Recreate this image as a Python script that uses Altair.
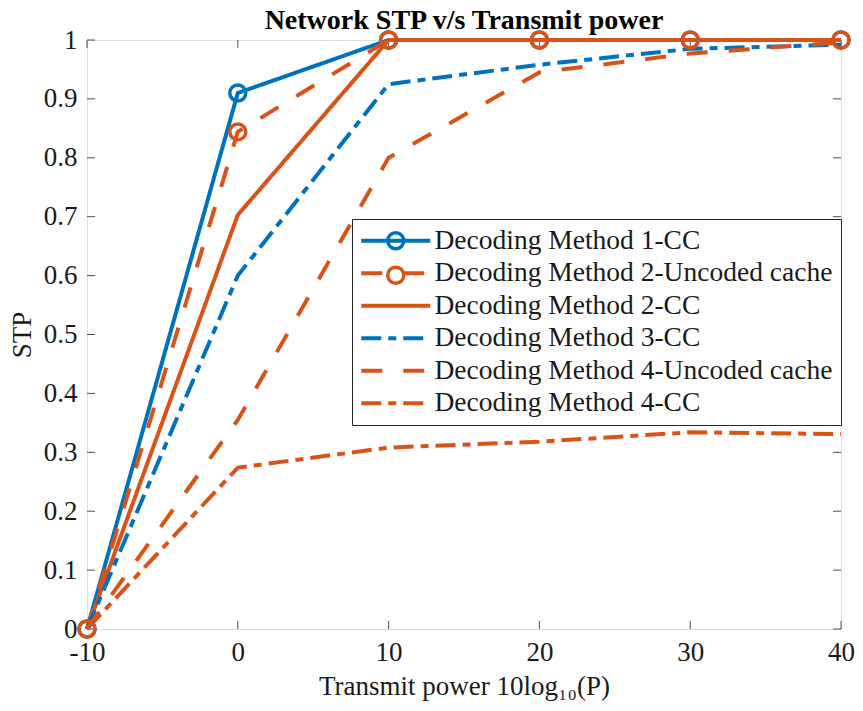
import altair as alt
import pandas as pd

# ---- data ----
x_vals = [-10, 0, 10, 20, 30, 40]
series_names = [
    "Decoding Method 1-CC",
    "Decoding Method 2-Uncoded cache",
    "Decoding Method 2-CC",
    "Decoding Method 3-CC",
    "Decoding Method 4-Uncoded cache",
    "Decoding Method 4-CC",
]
m1_cc = [0, 0.91, 1.0, 1.0, 1.0, 1.0]
m2_unc = [0, 0.844, 1.0, 1.0, 1.0, 1.0]
m2_cc = [0, 0.703, 1.0, 1.0, 1.0, 1.0]
m3_cc = [0, 0.60, 0.925, 0.958, 0.985, 0.992]
m4_unc = [0, 0.355, 0.80, 0.945, 0.977, 0.996]
m4_cc = [0, 0.274, 0.308, 0.318, 0.334, 0.331]
all_values = [m1_cc, m2_unc, m2_cc, m3_cc, m4_unc, m4_cc]
marker_series = series_names[:2]

x_ticks = [-10, 0, 10, 20, 30, 40]
y_ticks = [0, 0.1, 0.2, 0.3, 0.4, 0.5, 0.6, 0.7, 0.8, 0.9, 1]

# ---- styles ----
BLUE = "#0072BD"
ORANGE = "#D95319"
colors = [BLUE, ORANGE, ORANGE, BLUE, ORANGE, ORANGE]
dashes = [[1, 0], [21, 21], [1, 0], [20, 7, 8, 7], [21, 21], [20, 7, 8, 7]]
FONT = "Liberation Serif"
TXT = "#1a1a1a"
AX = "#4d4d4d"
W, H = 754, 589

rows = []
for name, vals in zip(series_names, all_values):
    for xv, yv in zip(x_vals, vals):
        rows.append({"series": name, "x": xv, "y": yv})
df = pd.DataFrame(rows)
df_mark = df[df["series"].isin(marker_series)]

xscale = alt.Scale(domain=[-10, 40], nice=False, zero=False)
yscale = alt.Scale(domain=[0, 1], nice=False, zero=False)

x_axis = alt.Axis(values=x_ticks, ticks=False, domain=False, grid=False,
                  labelExpr="'' + datum.value", labelFlush=False,
                  labelFont=FONT, labelFontSize=27, labelColor=TXT, labelPadding=10,
                  title="Transmit power 10log₁₀(P)", titleFont=FONT, titleFontSize=27,
                  titleFontWeight="normal", titleColor=TXT, titlePadding=8)
y_axis = alt.Axis(values=y_ticks, ticks=False, domain=False, grid=False,
                  labelExpr="'' + datum.value", labelFlush=False,
                  labelFont=FONT, labelFontSize=27, labelColor=TXT, labelPadding=10,
                  title="STP", titleFont=FONT, titleFontSize=27,
                  titleFontWeight="normal", titleColor=TXT, titlePadding=7)

SYM_SIZE = 400          # sqrt = 20px -> one path unit = 10px
line_path = "M-3.45,0H3.45"
circle_r = 0.8
circle_path = (f"M{circle_r},0A{circle_r},{circle_r},0,1,1,{-circle_r},0"
               f"A{circle_r},{circle_r},0,1,1,{circle_r},0Z")

LEG_X, LEG_Y = 265, 179
line_legend = alt.Legend(
    orient="none", legendX=LEG_X, legendY=LEG_Y, title=None,
    labelFont=FONT, labelFontSize=27.5, labelColor=TXT, labelLimit=600, labelOffset=25,
    symbolType=line_path, symbolSize=SYM_SIZE, symbolStrokeWidth=4, symbolOffset=22,
    fillColor="white", strokeColor="#262626", padding=8, rowPadding=3.5,
)
marker_legend = alt.Legend(
    orient="none", legendX=LEG_X, legendY=LEG_Y, title=None,
    labelFont=FONT, labelFontSize=27.5, labelOpacity=0, labelLimit=600, labelOffset=25,
    symbolType=circle_path, symbolSize=SYM_SIZE, symbolStrokeWidth=3.5, symbolOffset=22,
    symbolFillColor="transparent", padding=8, rowPadding=3.5,
)

color_enc = alt.Color("series:N", scale=alt.Scale(domain=series_names, range=colors),
                      legend=line_legend)
dash_enc = alt.StrokeDash("series:N", scale=alt.Scale(domain=series_names, range=dashes),
                          legend=line_legend)

layers = []
for name in series_names:
    ln = alt.Chart(df).transform_filter(alt.datum.series == name).mark_line(
        strokeWidth=4, strokeCap="butt", strokeJoin="miter"
    ).encode(
        x=alt.X("x:Q", scale=xscale, axis=x_axis),
        y=alt.Y("y:Q", scale=yscale, axis=y_axis),
        color=color_enc,
        strokeDash=dash_enc,
    )
    layers.append(ln)

points = alt.Chart(df_mark).mark_point(shape="circle", filled=False, size=256,
                                       strokeWidth=3.5, opacity=1).encode(
    x=alt.X("x:Q", scale=xscale),
    y=alt.Y("y:Q", scale=yscale),
    stroke=alt.Stroke("series:N", scale=alt.Scale(domain=marker_series, range=[BLUE, ORANGE]),
                      legend=marker_legend),
)

# inward ticks (MATLAB-style box ticks)
xt = pd.DataFrame({"t": x_ticks})
yt = pd.DataFrame({"t": y_ticks})
tick_len = 8
xb = alt.Chart(xt).mark_rule(color=AX, strokeWidth=1).encode(
    x=alt.X("t:Q", scale=xscale), y=alt.value(H), y2=alt.value(H - tick_len))
xtop = alt.Chart(xt).mark_rule(color=AX, strokeWidth=1).encode(
    x=alt.X("t:Q", scale=xscale), y=alt.value(0), y2=alt.value(tick_len))
yl = alt.Chart(yt).mark_rule(color=AX, strokeWidth=1).encode(
    y=alt.Y("t:Q", scale=yscale), x=alt.value(0), x2=alt.value(tick_len))
yr = alt.Chart(yt).mark_rule(color=AX, strokeWidth=1).encode(
    y=alt.Y("t:Q", scale=yscale), x=alt.value(W), x2=alt.value(W - tick_len))

chart = alt.layer(xb, xtop, yl, yr, *layers, points).properties(
    width=W, height=H,
    title=alt.Title("Network STP v/s Transmit power", font=FONT, fontSize=28,
                    fontWeight="bold", color="#000000", anchor="middle", frame="group",
                    offset=-10),
    autosize=alt.AutoSizeParams(type="none"),
    padding={"left": 79, "top": 32, "right": 14, "bottom": 74},
).configure_view(
    stroke=AX, strokeWidth=1
).configure(background="white")

chart.save("out.html", embed_options={"renderer": "svg", "actions": False})
